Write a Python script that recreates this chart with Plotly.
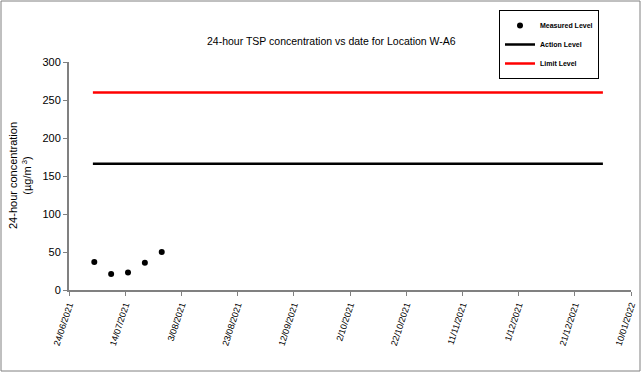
import plotly.graph_objects as go

meas_dates = ["2021-07-03", "2021-07-09", "2021-07-15", "2021-07-21", "2021-07-27"]
meas_values = [37, 21, 23, 36, 50]
level_dates = ["2021-07-02 12:00", "2021-12-31"]
action_level = [166, 166]
limit_level = [260, 260]
tick_dates = ["2021-06-24", "2021-07-14", "2021-08-03", "2021-08-23", "2021-09-12",
              "2021-10-02", "2021-10-22", "2021-11-11", "2021-12-01", "2021-12-21", "2022-01-10"]

W, H = 642, 374
L, R, T, B = 69, 11, 62, 84
pw, ph = W - L - R, H - T - B

def px(x):
    return (x - L) / pw

def py(y):
    return (H - B - y) / ph

fig = go.Figure()
fig.add_trace(go.Scatter(x=meas_dates, y=meas_values, mode="markers", name="Measured Level",
                         marker=dict(color="black", size=6)))
fig.add_trace(go.Scatter(x=level_dates, y=action_level, mode="lines", name="Action Level",
                         line=dict(color="black", width=2.5)))
fig.add_trace(go.Scatter(x=level_dates, y=limit_level, mode="lines", name="Limit Level",
                         line=dict(color="red", width=2.5)))

fig.update_layout(
    width=W, height=H,
    margin=dict(l=L, r=R, t=T, b=B, autoexpand=False),
    paper_bgcolor="white", plot_bgcolor="white",
    font=dict(family="Liberation Sans, Arial, sans-serif", color="black", size=10),
    showlegend=True,
    legend=dict(x=px(499), y=py(10), xanchor="left", yanchor="top",
                bordercolor="black", borderwidth=1, bgcolor="white",
                font=dict(size=7, weight="bold"), tracegroupgap=0, itemwidth=30),
    annotations=[
        dict(text="24-hour TSP concentration vs date for Location W-A6", x=px(331), y=py(41),
             xref="paper", yref="paper", xanchor="center", yanchor="middle",
             showarrow=False, font=dict(size=10.5)),
        dict(text="24-hour concentration<br>(µg/m<sup> 3</sup>)", x=px(20), y=py(176),
             xref="paper", yref="paper", xanchor="center", yanchor="middle",
             showarrow=False, textangle=-90, font=dict(size=11)),
    ],
    shapes=[
        dict(type="rect", xref="paper", yref="paper", x0=px(1), x1=px(640), y0=py(371), y1=py(1),
             line=dict(color="#808080", width=1)),
    ],
)

fig.update_xaxes(
    type="date", range=["2021-06-24", "2022-01-10"], tickvals=tick_dates, tickformat="%-d/%m/%Y",
    tickangle=-72, ticks="outside", ticklen=4, tickcolor="#808080", showline=True,
    linecolor="#808080", linewidth=2, showgrid=False, zeroline=False, tickfont=dict(size=9),
    automargin=False,
)
fig.update_yaxes(
    range=[0, 300], dtick=50, ticks="outside", ticklen=4, tickcolor="#808080", showline=True,
    linecolor="#808080", linewidth=2, showgrid=False, zeroline=False, tickfont=dict(size=11),
    automargin=False,
)

fig.write_html("out.html", config={"displayModeBar": False},
               post_script="document.body.style.margin='0';")
